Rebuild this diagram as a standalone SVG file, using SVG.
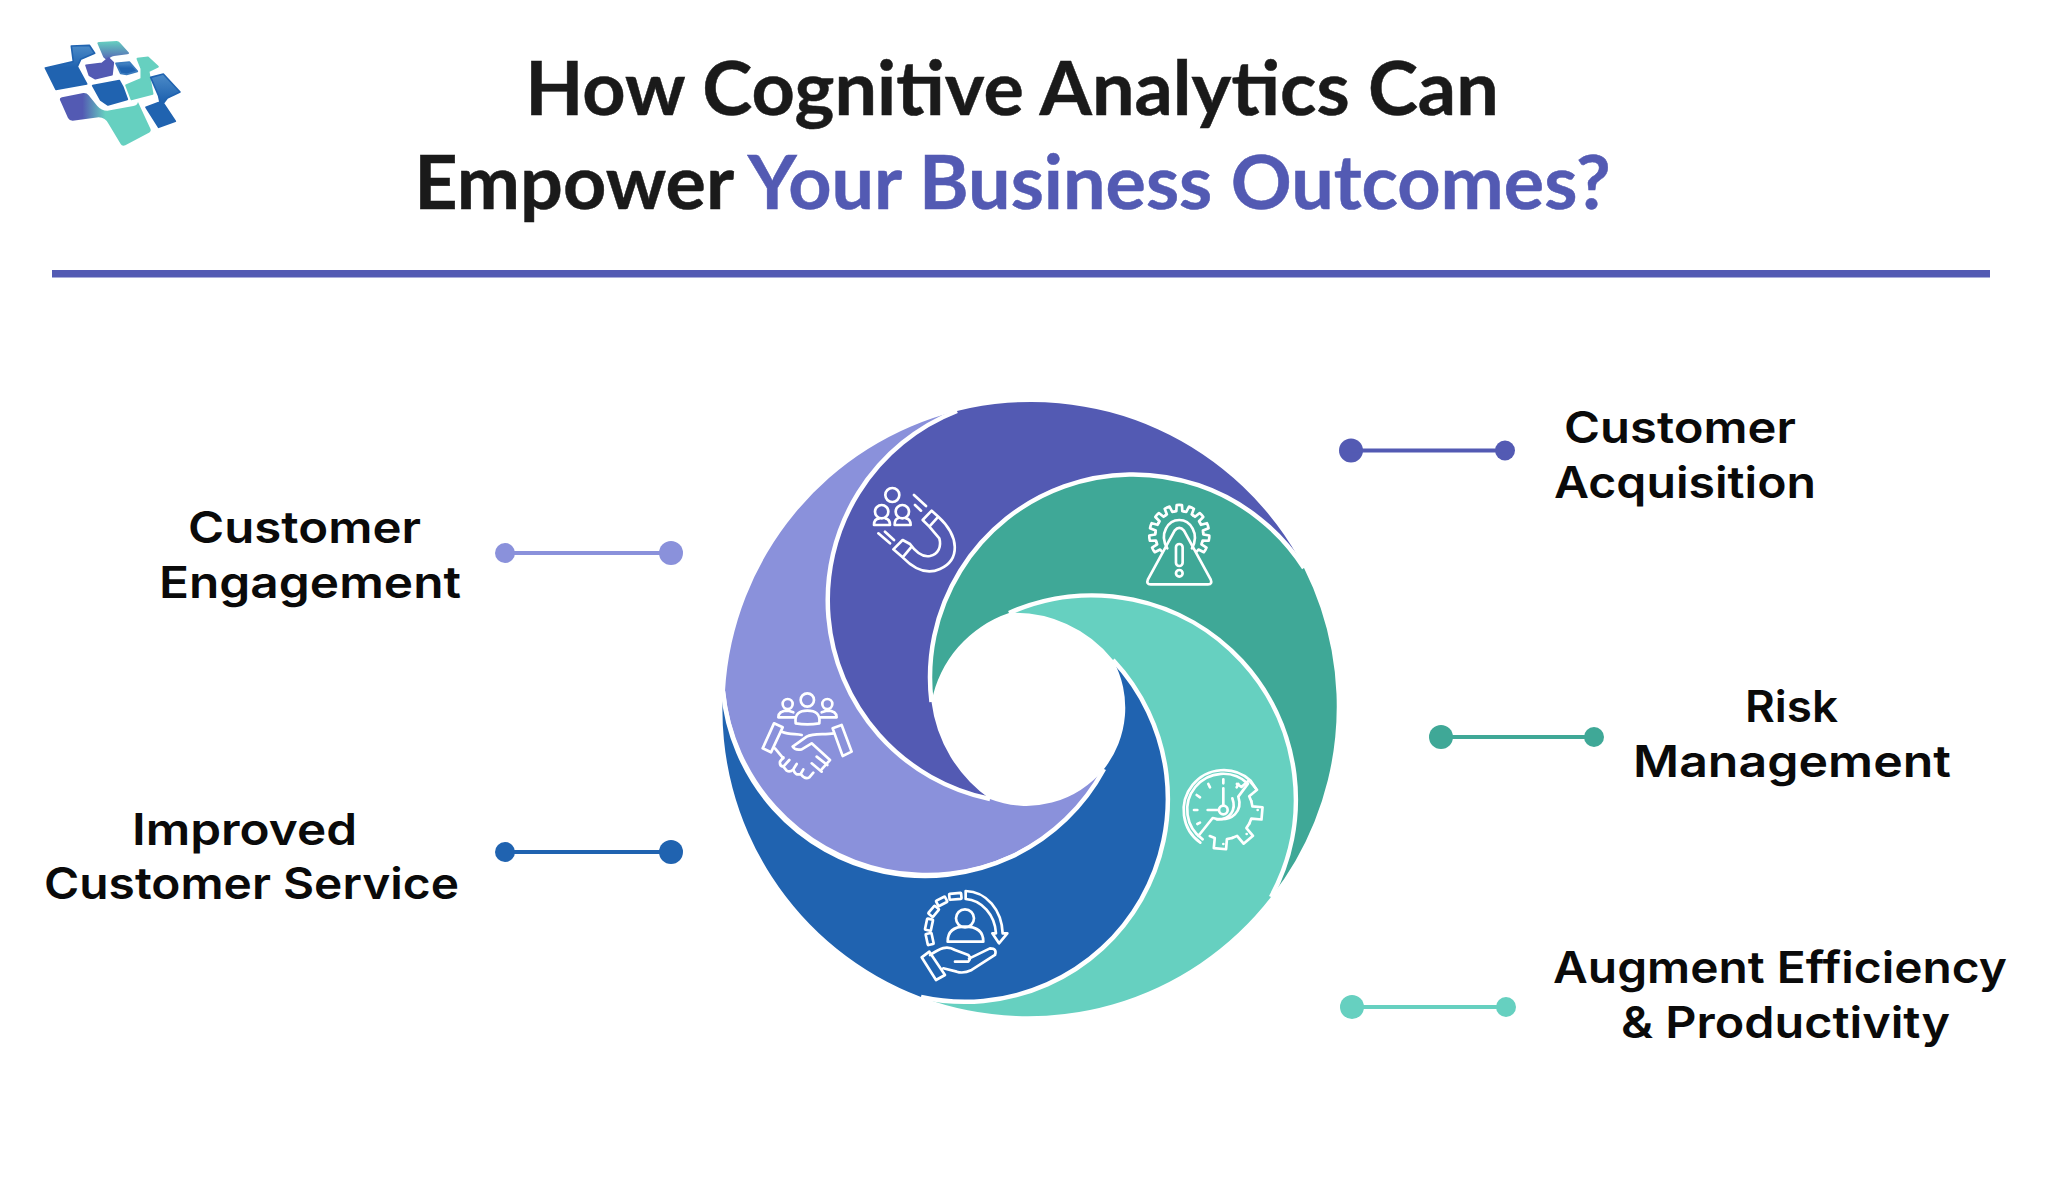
<svg xmlns="http://www.w3.org/2000/svg" xmlns:xlink="http://www.w3.org/1999/xlink" width="2048" height="1178" viewBox="0 0 2048 1178">
<style>
.t{font-family:Lato,"Liberation Sans",sans-serif;font-weight:700;font-size:75.5px;fill:#1a1a1a;stroke:#1a1a1a;stroke-width:.5}
.p{fill:#535AB3;stroke:#535AB3}
.l{font-family:Inter,"Liberation Sans",sans-serif;font-weight:600;font-size:44px;fill:#0a0a0a}
.w{fill:none;stroke:#fff;stroke-width:4.5;stroke-linecap:butt}
.i{fill:none;stroke:#fff;stroke-width:8;stroke-linecap:round;stroke-linejoin:round}
.lg{stroke-width:5;stroke-linejoin:round}
</style>
<defs>
<linearGradient id="g1" x1="0" y1="0" x2="0" y2="1"><stop offset="0" stop-color="#4C8BC8"/><stop offset=".5" stop-color="#2063B0"/></linearGradient>
<linearGradient id="g2" x1="0" y1="0" x2="0" y2="1"><stop offset="0" stop-color="#66D0C0"/><stop offset="1" stop-color="#5560B5"/></linearGradient>
<linearGradient id="g3" x1="0" y1="0" x2="1" y2="0"><stop offset=".25" stop-color="#535AB3"/><stop offset=".5" stop-color="#66D0C0"/></linearGradient>
<path id="tooth" d="M-15 -70.4L-9 -71.5L-8 -89.7Q0 -91 8 -89.7L9 -71.5L15 -70.4"/>
<path id="tooth2" d="M-33.7 -81.3L-18.3 -86L-18.5 -116.5H18.5L18.3 -86L33.7 -81.3"/>
</defs>
<rect width="2048" height="1178" fill="#fff"/>
<g id="logo" transform="translate(20 20) scale(.3333)">
<path class="lg" fill="url(#g1)" stroke="#2063B0" d="M76 144L160 125L154 78L208 76L224 100L182 118L172 140L200 192L108 208Z"/>
<path class="lg" fill="url(#g2)" stroke="none" d="M232 70Q232 66 238 66L290 63Q296 63 300 68L327 98Q329 102 322 103L282 108Q270 110 262 122L250 112Z"/>
<path class="lg" fill="#535AB3" stroke="#535AB3" d="M198 136L246 130L266 114L280 128L276 164L226 176L208 166Z"/>
<path class="lg" fill="url(#g1)" stroke="#3A7BBE" d="M288 130L328 126L352 154L320 163L302 160Z"/>
<path class="lg" fill="#66D0C0" stroke="#66D0C0" d="M352 116L384 112L414 140L386 154L398 222L334 238L318 196L364 176L364 146Z"/>
<path class="lg" fill="#2063B0" stroke="#2063B0" d="M218 197L298 182L308 200L322 238L264 255L242 240Z"/>
<path class="lg" fill="url(#g3)" stroke="none" d="M120 240Q118 234 126 232L190 219Q200 218 206 226L232 258Q244 272 262 272L340 258Q352 256 354 246L392 328Q394 336 384 340L316 376Q306 380 302 372L266 312Q256 292 236 292L158 302Q148 302 144 294Z"/>
<path class="lg" fill="url(#g1)" stroke="#2063B0" d="M392 172L430 162L480 216L442 234L430 250L466 304L416 322L378 262L420 246L416 228Z"/>
</g>
<g id="title">
<text class="t" x="1012" y="115" text-anchor="middle">How Cognitive Analytics Can</text>
<text class="t" x="1012.5" y="209" text-anchor="middle">Empower <tspan class="p">Your Business Outcomes?</tspan></text>
<rect x="52" y="270" width="1938" height="7.5" fill="#535AB3"/>
</g>
<g id="blades">
<path id="blade-light" fill="#8A91DB" d="M957 411A307 307 0 0 0 725 691A203 203 0 0 0 1104 769A100 100 0 0 1 990 799A203 203 0 0 1 957 411Z"/>
<path id="blade-blue" fill="#2063B0" d="M921 997A307 307 0 0 1 723 691A203 203 0 0 0 1104 769A99 99 0 0 0 1113 660A203 203 0 0 1 921 997Z"/>
<path id="blade-teal" fill="#66D0C0" d="M921 997A307 307 0 0 0 1271 897A204 204 0 0 0 1009 613A126 126 0 0 1 1113 660A203 203 0 0 1 921 997Z"/>
<path id="blade-green" fill="#3FA897" d="M1304 568A309 309 0 0 1 1271 897A204 204 0 0 0 1009 613A117 117 0 0 0 931.5 702A203 203 0 0 1 1304 568Z"/>
<path id="blade-purple" fill="#535AB3" d="M957 411A307 307 0 0 1 1304 568A203 203 0 0 0 931.5 702A140 140 0 0 0 990 799A203 203 0 0 1 957 411Z"/>
</g>
<g id="blade-lines">
<path class="w" d="M957 411A203 203 0 0 0 990 799"/>
<path class="w" d="M1304 568A203 203 0 0 0 931.5 702"/>
<path class="w" d="M1271 897A204 204 0 0 0 1009 613"/>
<path class="w" d="M1113 660A203 203 0 0 1 921 997"/>
<path class="w" d="M723 691A203 203 0 0 0 1104 769"/>
</g>
<g id="icon-magnet" class="i" transform="translate(860 470) scale(.3333)">
<circle cx="97" cy="75" r="21"/><circle cx="65" cy="125" r="20"/><circle cx="127" cy="125" r="20"/>
<path d="M58 145C44 146 42 155 42 165H90C90 155 86 147 76 145M114 145C106 147 104 155 104 165H152C152 155 150 147 138 145"/>
<path d="M235 140C300 200 300 270 240 297C200 315 160 295 128 262L100 238L128 210L150 222C170 250 190 262 210 258C235 252 245 230 238 205L208 170L188 150L215 122ZM208 170L235 140M128 262L155 230"/>
<path d="M162 75L198 108M165 105L183 122M55 190L90 220M75 185L102 210"/>
</g>
<g id="icon-warning" class="i" transform="translate(860 470) scale(.3333)">
<g transform="translate(958 195)"><use href="#tooth" transform="rotate(-120)"/><use href="#tooth" transform="rotate(-96)"/><use href="#tooth" transform="rotate(-72)"/><use href="#tooth" transform="rotate(-48)"/><use href="#tooth" transform="rotate(-24)"/><use href="#tooth"/><use href="#tooth" transform="rotate(24)"/><use href="#tooth" transform="rotate(48)"/><use href="#tooth" transform="rotate(72)"/><use href="#tooth" transform="rotate(96)"/><use href="#tooth" transform="rotate(120)"/></g>
<path d="M922 235C896 190 925 150 958 150C990 150 1020 190 996 235"/>
<path d="M944 182Q958 165 972 182L1052 328Q1058 343 1044 343H872Q858 343 864 328Z"/>
<rect x="948" y="222" width="20" height="66" rx="10"/><circle cx="958" cy="310" r="10"/>
</g>
<g id="icon-clock" class="i" transform="translate(1170 760) scale(.3333)">
<g transform="translate(160 150)"><use href="#tooth2" transform="rotate(50)"/><use href="#tooth2" transform="rotate(95)"/><use href="#tooth2" transform="rotate(140)"/><use href="#tooth2" transform="rotate(185)"/></g>
<path d="M91 248A120 120 0 1 1 242 62L257 85M98 238A108 108 0 1 1 234 71L205 110C218 150 190 190 128 174L85 228"/>
<path d="M187 115C200 150 180 180 140 178"/>
<path d="M160 85V135M113 150H145M160 58V70M115 72L120 82M205 72L200 82M80 105L90 112M72 150H82M82 192L90 188"/>
<circle cx="160" cy="150" r="13"/>
<path d="M263 150h.1M230 222h.1M160 252h.1"/>
</g>
<g id="icon-care" class="i" transform="translate(900 880) scale(.3333)">
<circle cx="195" cy="115" r="27"/><path d="M143 185C143 150 165 140 195 140C225 140 250 150 250 185Z"/>
<path d="M197 33C260 35 305 90 308 160L322 160L297 190L277 160L288 160C285 105 245 60 197 57Z"/>
<rect x="148" y="40" width="36" height="18" rx="2" transform="rotate(-5 166 49)"/>
<rect x="110" y="55" width="30" height="18" rx="2" transform="rotate(-27 125 64)"/>
<rect x="86" y="85" width="30" height="18" rx="2" transform="rotate(-50 101 94)"/>
<rect x="70" y="125" width="34" height="18" rx="2" transform="rotate(-78 87 134)"/>
<rect x="72" y="168" width="34" height="18" rx="2" transform="rotate(-102 89 177)"/>
<path d="M65 232L88 215L135 285L108 300ZM90 225C120 205 140 195 165 210L205 225Q215 235 205 245L165 245M207 236L270 205Q292 205 285 225L215 270Q190 282 170 275L130 265"/>
</g>
<g id="icon-handshake" class="i" transform="translate(750 680) scale(.3333)">
<circle cx="172" cy="60" r="20"/><circle cx="113" cy="72" r="15"/><circle cx="232" cy="72" r="15"/>
<path d="M137 130C133 100 150 92 172 92C195 92 212 100 208 130Q172 136 137 130ZM85 112C85 95 100 92 115 92L130 97M85 112H135M260 112C260 95 245 92 230 92L215 97M212 112H260"/>
<path d="M72 130L98 142L63 217L38 205ZM248 145L275 135L305 215L278 228Z"/>
<path d="M95 155C120 165 140 160 155 165M252 160C220 165 190 158 170 170L128 200Q135 212 155 208L185 190L240 240L215 268M75 205L100 235M200 230L232 255M185 250L215 275"/>
<path d="M100 232L90 245Q88 258 100 260L118 240M100 260L110 272Q120 278 130 268L140 252M130 268Q135 288 152 282L160 268M152 282Q165 300 178 292L190 278"/>
</g>
<g id="connectors">
<g fill="#535AB3"><circle cx="1351" cy="450.5" r="12"/><circle cx="1505" cy="450.5" r="10"/><path d="M1351 450.5H1505" stroke="#535AB3" stroke-width="4"/></g>
<g fill="#3FA897"><circle cx="1441" cy="737" r="12"/><circle cx="1594" cy="737" r="10"/><path d="M1441 737H1594" stroke="#3FA897" stroke-width="4"/></g>
<g fill="#66D0C0"><circle cx="1352" cy="1007" r="12"/><circle cx="1506" cy="1007" r="10"/><path d="M1352 1007H1506" stroke="#66D0C0" stroke-width="4"/></g>
<g fill="#8A91DB"><circle cx="505" cy="553" r="10"/><circle cx="671" cy="553" r="12"/><path d="M505 553H671" stroke="#8A91DB" stroke-width="4"/></g>
<g fill="#2063B0"><circle cx="505" cy="852" r="10"/><circle cx="671" cy="852" r="12"/><path d="M505 852H671" stroke="#2063B0" stroke-width="4"/></g>
</g>
<g id="labels">
<text class="l" x="1564" y="443" textLength="232" lengthAdjust="spacingAndGlyphs">Customer</text>
<text class="l" x="1554" y="498" textLength="262" lengthAdjust="spacingAndGlyphs">Acquisition</text>
<text class="l" x="1745" y="722" textLength="93" lengthAdjust="spacingAndGlyphs">Risk</text>
<text class="l" x="1633" y="777" textLength="318" lengthAdjust="spacingAndGlyphs">Management</text>
<text class="l" x="1553" y="983" textLength="454" lengthAdjust="spacingAndGlyphs">Augment Efficiency</text>
<text class="l" x="1621" y="1038" textLength="329" lengthAdjust="spacingAndGlyphs">&amp; Productivity</text>
<text class="l" x="188" y="543" textLength="233" lengthAdjust="spacingAndGlyphs">Customer</text>
<text class="l" x="159" y="598" textLength="302" lengthAdjust="spacingAndGlyphs">Engagement</text>
<text class="l" x="132" y="845" textLength="225" lengthAdjust="spacingAndGlyphs">Improved</text>
<text class="l" x="44" y="899" textLength="415" lengthAdjust="spacingAndGlyphs">Customer Service</text>
</g>
</svg>
